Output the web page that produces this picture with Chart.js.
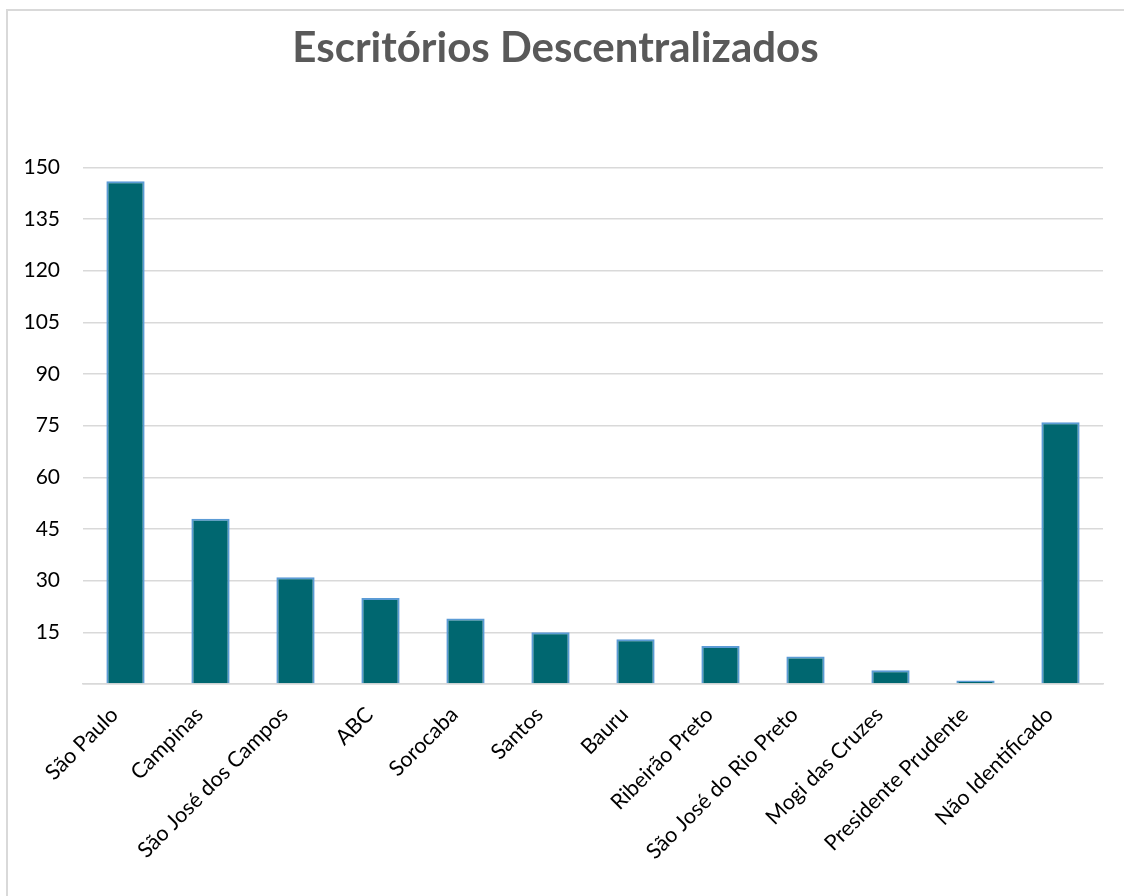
<!DOCTYPE html>
<html lang="pt-BR">
<head>
<meta charset="utf-8">
<title>Escritórios Descentralizados</title>
<script src="https://cdn.jsdelivr.net/npm/chart.js@4"></script>
<style>
  html, body { margin: 0; padding: 0; background: #fff; overflow: hidden; }
  #wrap {
    position: absolute;
    left: 6px;
    top: 9px;
    width: 1124px;
    height: 900px;
    border: 2px solid #d9d9d9;
  }
</style>
</head>
<body>
<div id="wrap"><canvas id="barChart"></canvas></div>
<script>
  // Escritórios por região
  const categorias = [
    "São Paulo", "Campinas", "São José dos Campos", "ABC", "Sorocaba", "Santos",
    "Bauru", "Ribeirão Preto", "São José do Rio Preto", "Mogi das Cruzes",
    "Presidente Prudente", "Não Identificado"
  ];
  const valores = [146, 48, 31, 25, 19, 15, 13, 11, 8, 4, 1, 76];
  const ticksY = [15, 30, 45, 60, 75, 90, 105, 120, 135, 150];

  const fonte = "Lato, 'Open Sans', sans-serif";

  const barData = {
    labels: categorias,
    datasets: [{
      data: valores,
      backgroundColor: "#006770",
      borderColor: "#5b9bd5",
      borderWidth: 2,
      barPercentage: 0.45,
      categoryPercentage: 1
    }]
  };

  const barOptions = {
    responsive: true,
    maintainAspectRatio: false,
    animation: false,
    layout: { padding: { left: 0, right: 29, top: 0, bottom: 0 } },
    plugins: {
      legend: { display: false },
      tooltip: { enabled: false },
      title: {
        display: true,
        text: "Escritórios Descentralizados",
        color: "#595959",
        font: { family: fonte, size: 42, weight: "bold" },
        lineHeight: 1.2,
        padding: { top: 12, bottom: 94 }
      }
    },
    scales: {
      x: {
        grid: { display: false, drawTicks: false },
        border: { color: "#d9d9d9", width: 1.5 },
        ticks: {
          color: "#000",
          font: { family: fonte, size: 21.5 },
          minRotation: 45,
          maxRotation: 45,
          autoSkip: false,
          padding: 18,
          labelOffset: -11
        },
        afterFit: (scale) => { scale.height = 227; }
      },
      y: {
        min: 0,
        max: 150,
        afterBuildTicks: (scale) => {
          scale.ticks = [0].concat(ticksY).map(v => ({ value: v }));
        },
        grid: { color: "#d9d9d9", lineWidth: 1.5, drawTicks: false },
        border: { display: false },
        ticks: {
          color: "#000",
          font: { family: fonte, size: 21 },
          padding: 23,
          callback: (v) => v === 0 ? "" : v
        },
        afterFit: (scale) => { scale.width = 75; }
      }
    }
  };

  const barCtx = document.getElementById('barChart').getContext('2d');
  new Chart(barCtx, {
    type: 'bar',
    data: barData,
    options: barOptions
  });
</script>
</body>
</html>
